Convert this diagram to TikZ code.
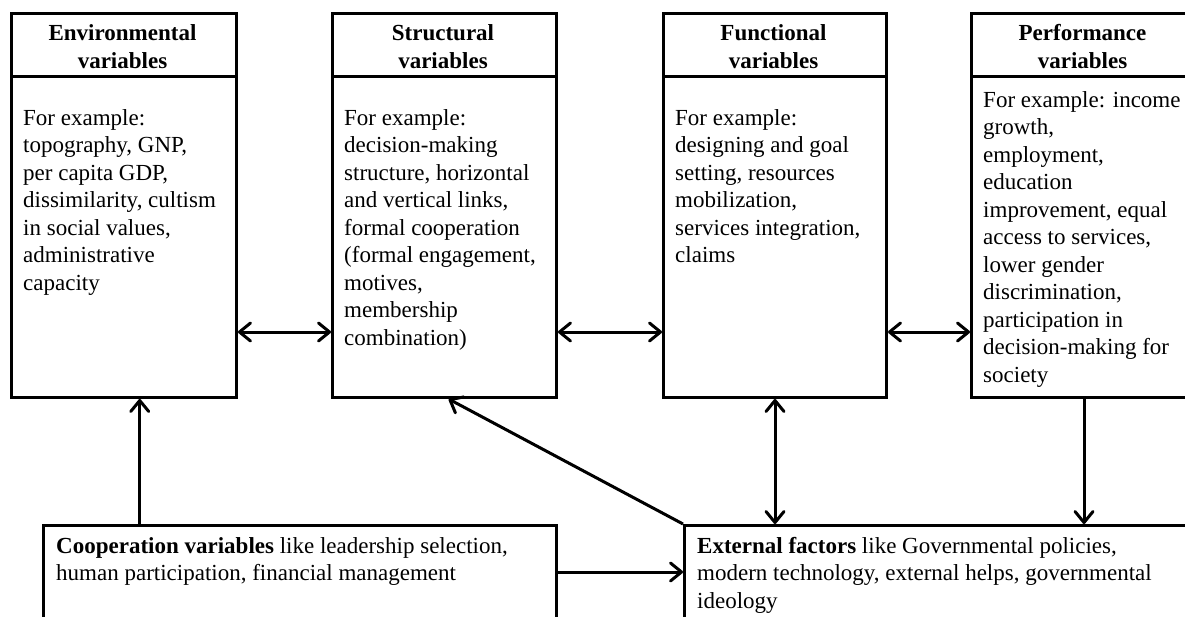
\documentclass[tikz,border=0pt]{standalone}
\usepackage{fontspec}
\setmainfont{Liberation Serif}
\usetikzlibrary{arrows.meta,calc}
\begin{document}
\begin{tikzpicture}[x=1pt,y=-1pt,
  frame/.style={draw, line width=3pt, rectangle, inner sep=0pt, anchor=north west},
  head/.style={font=\fontsize{23}{28}\selectfont\bfseries, align=center, inner sep=0pt, anchor=north},
  body/.style={font=\fontsize{23}{27.5}\selectfont, align=left, inner sep=0pt, anchor=north west},
  barb/.tip={Straight Barb[length=11pt,width=18pt,round]},
  link/.style={line width=3pt, -barb},
  twoway/.style={line width=3pt, barb-barb}
]
\clip (0,0) rectangle (1185,617);
\fill[white] (0,0) rectangle (1185,617);

% upper row of variable boxes: title strip + body
\node[frame, minimum width=225pt, minimum height=63pt]  (envhead)  at (10,12) {};
\node[frame, minimum width=225pt, minimum height=321pt] (env)      at (10,75) {};
\node[frame, minimum width=224pt, minimum height=63pt]  (strhead)  at (331,12) {};
\node[frame, minimum width=224pt, minimum height=321pt] (str)      at (331,75) {};
\node[frame, minimum width=223pt, minimum height=63pt]  (funhead)  at (662,12) {};
\node[frame, minimum width=223pt, minimum height=321pt] (fun)      at (662,75) {};
\node[frame, minimum width=225pt, minimum height=63pt]  (perfhead) at (970,12) {};
\node[frame, minimum width=225pt, minimum height=321pt] (perf)     at (970,75) {};

% lower boxes
\node[frame, minimum width=513pt, minimum height=130pt] (coop) at (42,524) {};
\node[frame, minimum width=520pt, minimum height=130pt] (ext)  at (683,524) {};

% titles
\node[head] (envtitle)  at (122.5,24.5) {Environmental\\variables};
\node[head] (strtitle)  at (443,24.5)   {Structural\\variables};
\node[head] (funtitle)  at (773.5,24.5) {Functional\\variables};
\node[head] (perftitle) at (1082.5,24.5) {Performance\\variables};

% body texts
\node[body] (envtext) at (23,109) {For example:\\topography, GNP,\\per capita GDP,\\dissimilarity, cultism\\in social values,\\administrative\\capacity};
\node[body] (strtext) at (344,109) {For example:\\decision-making\\structure, horizontal\\and vertical links,\\formal cooperation\\(formal engagement,\\motives,\\membership\\combination)};
\node[body] (funtext) at (675,109) {For example:\\designing and goal\\setting, resources\\mobilization,\\services integration,\\claims};
\node[body] (perftext) at (983,91) {For example: income\\growth,\\employment,\\education\\improvement, equal\\access to services,\\lower gender\\discrimination,\\participation in\\decision-making for\\society};
\node[body] (cooptext) at (56,537) {\textbf{Cooperation variables} like leadership selection,\\human participation, financial management};
\node[body] (exttext) at (697,537) {\textbf{External factors} like Governmental policies,\\modern technology, external helps, governmental\\ideology};

% connectors
\coordinate (row) at (0,332);
\coordinate (lane) at (0,572);
\coordinate (envfoot) at ($(env.south west)!0.569!(env.south east)$);
\coordinate (strfoot) at ($(str.south west)!0.518!(str.south east)$);

\draw[twoway] (env.east |- row) -- (str.west |- row);
\draw[twoway] (str.east |- row) -- (fun.west |- row);
\draw[twoway] (fun.east |- row) -- (perf.west |- row);
\draw[link] (coop.north -| envfoot) -- (envfoot);
\draw[link] (coop.east |- lane) -- (ext.west |- lane);
\draw[link] (ext.north west) -- (strfoot);
\draw[twoway] (fun.south) -- (fun.south |- ext.north);
\draw[link] (perf.south) -- (perf.south |- ext.north);
\end{tikzpicture}
\end{document}
